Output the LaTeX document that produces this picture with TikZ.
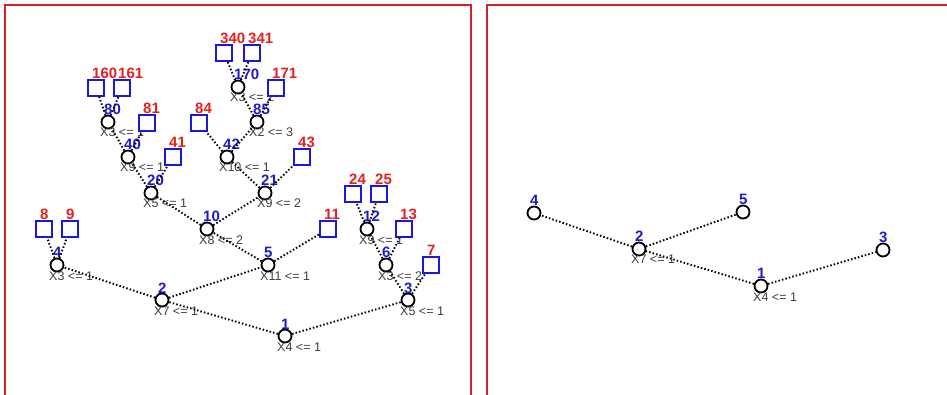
\documentclass[tikz,border=0pt]{standalone}
\usepackage{fontspec}
\setmainfont{Liberation Sans}
\definecolor{framered}{RGB}{212,34,40}
\definecolor{idblue}{RGB}{28,28,205}
\definecolor{idred}{RGB}{228,32,32}
\definecolor{boxblue}{RGB}{24,24,222}
\definecolor{condgray}{RGB}{62,62,62}
\tikzset{
  frame/.style={draw=framered, line width=1.8pt},
  split/.style={circle, draw=black, line width=1.8pt, fill=white, minimum size=13pt, inner sep=0pt,
    path picture={\fill (path picture bounding box.center) circle (0.9pt);}},
  leafbox/.style={rectangle, draw=boxblue, line width=1.6pt, fill=white, minimum size=16pt, inner sep=0pt,
    path picture={\fill (path picture bounding box.center) circle (0.9pt);}},
  idtext/.style={anchor=base west, inner sep=0pt, font=\fontsize{15}{15}\selectfont\bfseries},
  condtext/.style={anchor=base west, inner sep=0pt, text=condgray, font=\fontsize{12.5}{12.5}\selectfont},
  branch/.style={draw=black, line width=1.9pt, dash pattern=on 1.5pt off 2.1pt},
}
% split node: name, x, y, number, condition
\newcommand\splitnode[5]{%
  \node[split] (#1) at (#2,#3) {};
  \node[idtext, text=idblue] (#1-id) at (#2-4,#3-7) {#4};
  \node[condtext] (#1-cond) at (#2-8,#3+15) {#5};
}
% circle node without a condition: name, x, y, number
\newcommand\tipnode[4]{%
  \node[split] (#1) at (#2,#3) {};
  \node[idtext, text=idblue] (#1-id) at (#2-4,#3-7) {#4};
}
% square leaf: name, x, y, number
\newcommand\leafnode[4]{%
  \node[leafbox] (#1) at (#2,#3) {};
  \node[idtext, text=idred] (#1-id) at (#2-4,#3-9) {#4};
}
\begin{document}
\begin{tikzpicture}[x=1pt, y=-1pt]
\useasboundingbox (0,0) rectangle (947,395);
\fill[white] (0,0) rectangle (947,395);

% panel frames
\draw[frame] (5,396) -- (5,5) -- (471,5) -- (471,396);
\draw[frame] (487,396) -- (487,5) -- (948,5);

% ---- full tree ----
\splitnode{n1}{285}{336}{1}{X4 <= 1}
\splitnode{n2}{162}{300}{2}{X7 <= 1}
\splitnode{n3}{408}{300}{3}{X5 <= 1}
\splitnode{n4}{57}{265}{4}{X3 <= 1}
\splitnode{n5}{268}{265}{5}{X11 <= 1}
\splitnode{n6}{386}{265}{6}{X3 <= 2}
\splitnode{n10}{207}{229}{10}{X8 <= 2}
\splitnode{n12}{367}{229}{12}{X9 <= 1}
\splitnode{n20}{151}{193}{20}{X5 <= 1}
\splitnode{n21}{265}{193}{21}{X9 <= 2}
\splitnode{n40}{128}{157}{40}{X9 <= 1}
\splitnode{n42}{227}{157}{42}{X10 <= 1}
\splitnode{n80}{108}{122}{80}{X3 <= 1}
\splitnode{n85}{257}{122}{85}{X2 <= 3}
\splitnode{n170}{238}{87}{170}{X3 <= 2}

\leafnode{l7}{431}{265}{7}
\leafnode{l8}{44}{229}{8}
\leafnode{l9}{70}{229}{9}
\leafnode{l11}{328}{229}{11}
\leafnode{l13}{404}{229}{13}
\leafnode{l24}{353}{194}{24}
\leafnode{l25}{379}{194}{25}
\leafnode{l41}{173}{157}{41}
\leafnode{l43}{302}{157}{43}
\leafnode{l81}{147}{123}{81}
\leafnode{l84}{199}{123}{84}
\leafnode{l160}{96}{88}{160}
\leafnode{l161}{122}{88}{161}
\leafnode{l171}{276}{88}{171}
\leafnode{l340}{224}{53}{340}
\leafnode{l341}{252}{53}{341}

\draw[branch] (n1) -- (n2);   \draw[branch] (n1) -- (n3);
\draw[branch] (n2) -- (n4);   \draw[branch] (n2) -- (n5);
\draw[branch] (n3) -- (n6);   \draw[branch] (n3) -- (l7);
\draw[branch] (n4) -- (l8);   \draw[branch] (n4) -- (l9);
\draw[branch] (n5) -- (n10);  \draw[branch] (n5) -- (l11);
\draw[branch] (n6) -- (n12);  \draw[branch] (n6) -- (l13);
\draw[branch] (n10) -- (n20); \draw[branch] (n10) -- (n21);
\draw[branch] (n12) -- (l24); \draw[branch] (n12) -- (l25);
\draw[branch] (n20) -- (n40); \draw[branch] (n20) -- (l41);
\draw[branch] (n21) -- (n42); \draw[branch] (n21) -- (l43);
\draw[branch] (n40) -- (n80); \draw[branch] (n40) -- (l81);
\draw[branch] (n42) -- (l84); \draw[branch] (n42) -- (n85);
\draw[branch] (n80) -- (l160); \draw[branch] (n80) -- (l161);
\draw[branch] (n85) -- (n170); \draw[branch] (n85) -- (l171);
\draw[branch] (n170) -- (l340); \draw[branch] (n170) -- (l341);

% ---- pruned tree ----
\splitnode{r1}{761}{286}{1}{X4 <= 1}
\splitnode{r2}{639}{249}{2}{X7 <= 1}
\tipnode{r3}{883}{250}{3}
\tipnode{r4}{534}{213}{4}
\tipnode{r5}{743}{212}{5}

\draw[branch] (r1) -- (r2); \draw[branch] (r1) -- (r3);
\draw[branch] (r2) -- (r4); \draw[branch] (r2) -- (r5);
\end{tikzpicture}
\end{document}
